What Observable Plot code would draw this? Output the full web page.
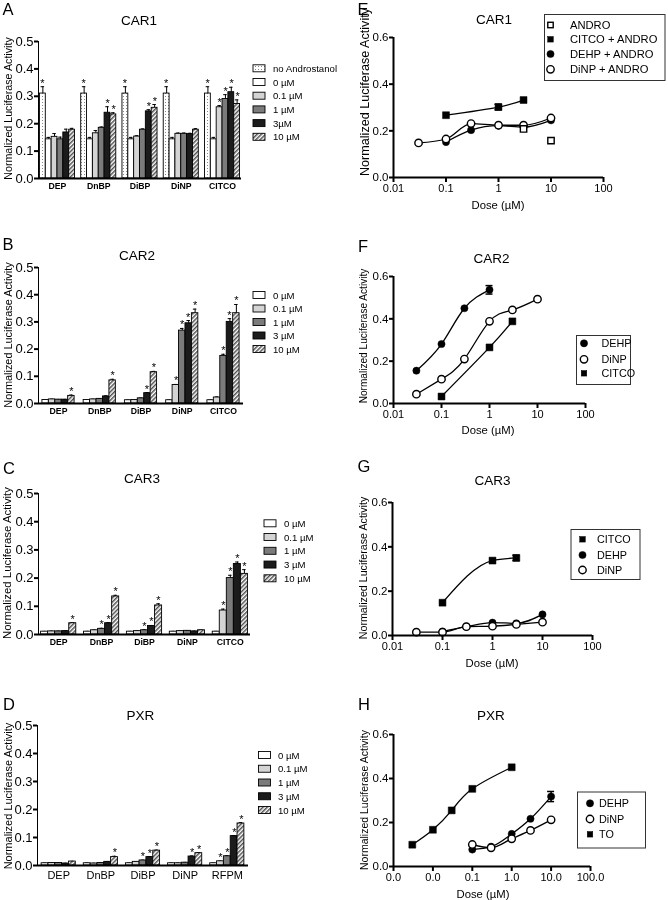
<!DOCTYPE html>
<html><head><meta charset="utf-8">
<script src="https://cdn.jsdelivr.net/npm/d3@7"></script>
<script src="https://cdn.jsdelivr.net/npm/@observablehq/plot@0.6"></script>
<style>
body{margin:0;background:#fff;}
#fig{position:relative;width:668px;height:900px;overflow:hidden;background:#fff;filter:grayscale(1);}
#fig g[aria-label^="x-axis"] line,#fig g[aria-label^="x-axis"] path,
#fig g[aria-label^="y-axis"] line,#fig g[aria-label^="y-axis"] path{stroke:#000;stroke-width:2px;}
#fig svg.boldx g[aria-label^="x-axis"] text{font-weight:bold;font-size:8.7px;}
#fig svg.regx g[aria-label^="x-axis"] text{font-size:11px;}
#fig svg.logp g[aria-label^="x-axis"] text{font-size:11px;}
</style></head><body>
<div id="fig"></div>
<script>
// ---------- DATA ----------
const groupsCAR = ["DEP","DnBP","DiBP","DiNP","CITCO"];
const groupsPXR = ["DEP","DnBP","DiBP","DiNP","RFPM"];
const seriesCAR1 = ["no Androstanol","0 \u00b5M","0.1 \u00b5M","1 \u00b5M","3\u00b5M","10 \u00b5M"];
const seriesDose = ["0 \u00b5M","0.1 \u00b5M","1 \u00b5M","3 \u00b5M","10 \u00b5M"];
const yTicksBar = [0,0.1,0.2,0.3,0.4,0.5];
const yTicksCurve = [0,0.2,0.4,0.6];
const xTicksCAR = [0.01,0.1,1,10,100];
const xTicksPXR = [0.001,0.01,0.1,1,10,100];

// rows = series, columns = groups
const car1Values = [
 [0.310,0.310,0.310,0.310,0.310],
 [0.143,0.143,0.143,0.143,0.143],
 [0.152,0.165,0.153,0.163,0.260],
 [0.143,0.185,0.178,0.163,0.290],
 [0.168,0.240,0.245,0.162,0.315],
 [0.178,0.234,0.258,0.178,0.272]];
const car1Errors = [
 [0.025,0.025,0.025,0.025,0.025],
 [0.007,0.007,0.007,0.007,0.007],
 [0.012,0.010,0.003,0.003,0.006],
 [0.008,0.003,0.003,0.003,0.016],
 [0.012,0.022,0.006,0.003,0.018],
 [0.005,0.006,0.012,0.004,0.015]];
const car1Stars = [[1,1,1,1,1],[0,0,0,0,0],[0,0,0,0,1],[0,0,0,0,1],[0,1,1,0,1],[0,1,1,0,1]];

const car2Values = [
 [0.013,0.013,0.012,0.012,0.012],
 [0.015,0.015,0.013,0.068,0.022],
 [0.014,0.017,0.019,0.268,0.175],
 [0.014,0.026,0.038,0.295,0.300],
 [0.028,0.085,0.115,0.332,0.332]];
const car2Errors = [
 [0.001,0.001,0.001,0.001,0.001],
 [0.001,0.001,0.001,0.002,0.002],
 [0.001,0.001,0.001,0.008,0.006],
 [0.001,0.002,0.002,0.010,0.012],
 [0.003,0.004,0.003,0.015,0.032]];
const car2Stars = [[0,0,0,0,0],[0,0,0,1,0],[0,0,0,1,1],[0,0,1,1,1],[1,1,1,1,1]];

const car3Values = [
 [0.010,0.010,0.010,0.010,0.010],
 [0.011,0.015,0.012,0.012,0.085],
 [0.011,0.020,0.015,0.013,0.200],
 [0.012,0.040,0.030,0.011,0.250],
 [0.040,0.135,0.103,0.015,0.215]];
const car3Errors = [
 [0.001,0.001,0.001,0.001,0.001],
 [0.001,0.001,0.001,0.001,0.005],
 [0.001,0.002,0.002,0.001,0.010],
 [0.001,0.002,0.002,0.001,0.007],
 [0.002,0.004,0.006,0.001,0.015]];
const car3Stars = [[0,0,0,0,0],[0,0,0,0,1],[0,1,1,0,1],[0,1,1,0,1],[1,1,1,0,1]];

const pxrValues = [
 [0.008,0.008,0.008,0.008,0.008],
 [0.009,0.007,0.013,0.008,0.015],
 [0.009,0.009,0.018,0.010,0.033],
 [0.007,0.013,0.030,0.032,0.105],
 [0.014,0.030,0.053,0.044,0.150]];
const pxrErrors = [
 [0.001,0.001,0.001,0.001,0.001],
 [0.001,0.001,0.001,0.001,0.001],
 [0.001,0.001,0.001,0.001,0.002],
 [0.001,0.001,0.002,0.002,0.002],
 [0.001,0.003,0.002,0.002,0.003]];
const pxrStars = [[0,0,0,0,0],[0,0,0,0,1],[0,0,1,0,1],[0,0,1,1,1],[0,1,1,1,1]];

// Dose-response (E-H)
const eAndroDose = [3,10],              eAndroAct = [0.208,0.158];
const eCitcoDose = [0.1,1,3],           eCitcoAct = [0.267,0.302,0.332], eCitcoErr = [0,0.012,0];
const eDehpDose = [0.1,0.3,1,3,10],     eDehpAct = [0.152,0.203,0.222,0.216,0.245];
const eDinpDose = [0.03,0.1,0.3,1,3,10],eDinpAct = [0.148,0.165,0.231,0.224,0.224,0.255];

const fDehpDose = [0.03,0.1,0.3,1],     fDehpAct = [0.155,0.281,0.450,0.537], fDehpErr = [0,0,0,0.02];
const fDinpDose = [0.03,0.1,0.3,1,3,10],fDinpAct = [0.044,0.115,0.210,0.388,0.442,0.493];
const fCitcoDose = [0.1,1,3],           fCitcoAct = [0.033,0.265,0.388];

const gCitcoDose = [0.1,1,3],           gCitcoAct = [0.148,0.338,0.350], gCitcoErr = [0,0,0.012];
const gDehpDose = [0.1,0.3,1,3,10],     gDehpAct = [0.018,0.040,0.058,0.055,0.095];
const gDinpDose = [0.03,0.1,0.3,1,3,10],gDinpAct = [0.015,0.015,0.040,0.042,0.050,0.060];

const hToDose = [0.003,0.01,0.03,0.1,1],hToAct = [0.099,0.167,0.255,0.353,0.451];
const hDehpDose = [0.1,0.3,1,3,10],     hDehpAct = [0.077,0.090,0.148,0.217,0.318], hDehpErr = [0,0,0,0,0.023];
const hDinpDose = [0.1,0.3,1,3,10],     hDinpAct = [0.100,0.085,0.126,0.164,0.212];

// ---------- STYLE ----------
const FONT = '"Liberation Sans", Arial, Helvetica, sans-serif';
const fillsCAR1 = ["url(#dots)","#ffffff","#d4d4d4","#7b7b7b","#1b1b1b","url(#hatch)"];
const fillsDose = ["#ffffff","#d4d4d4","#7b7b7b","#1b1b1b","url(#hatch)"];
const fig = document.getElementById("fig");

function place(node, left, top) {
  node.style.position = "absolute";
  node.style.left = left + "px";
  node.style.top = top + "px";
  fig.appendChild(node);
}

function barPanel(c) {
  const n = c.series.length;
  const inner = c.width - c.ml - c.mr;
  const step = inner / (c.groups.length - c.padI + 2 * c.padO);
  const bw = step * (1 - c.padI);
  const w = bw / n;
  const marks = [];
  c.series.forEach((s, si) => {
    const d = c.groups.map((g, gi) => ({group: g, value: c.values[si][gi],
      top: c.values[si][gi] + c.errors[si][gi], star: c.stars[si][gi]}));
    const off = (si - (n - 1) / 2) * w;
    const inset = (bw - w) / 2;
    const capInset = (bw - 3.5) / 2;
    marks.push(Plot.ruleX(d, {x: "group", y1: "value", y2: "top", dx: off, stroke: "#000", strokeWidth: 1}));
    marks.push(Plot.tickY(d, {x: "group", y: "top", insetLeft: capInset + off, insetRight: capInset - off, stroke: "#000", strokeWidth: 1}));
    marks.push(Plot.barY(d, {x: "group", y: "value", fill: c.fills[si], stroke: "#000", strokeWidth: 0.9,
      insetLeft: inset + off, insetRight: inset - off}));
    marks.push(Plot.text(d.filter(r => r.star), {x: "group", y: "top", text: () => "*", dx: Math.round(off), dy: 0,
      lineAnchor: "bottom", fontSize: 11, fill: "black"}));
  });
  marks.push(Plot.ruleY([0], {stroke: "#000", strokeWidth: 2}));
  const p = Plot.plot({
    width: c.width, height: c.height,
    marginLeft: c.ml, marginRight: c.mr, marginTop: c.mt, marginBottom: c.mb,
    style: {fontFamily: FONT, fontSize: "13px", background: "transparent", overflow: "visible", color: "#000"},
    x: {type: "band", domain: c.groups, paddingInner: c.padI, paddingOuter: c.padO, align: 0.5, round: false,
        label: null, tickSize: 0, tickPadding: c.xPad},
    y: {domain: [0, 0.5], ticks: yTicksBar, tickFormat: ".1f", label: null, tickSize: 4, tickPadding: 1, line: true},
    marks
  });
  p.classList.add(c.xClass);
  place(p, c.left, c.top);
}

const symbolStyles = {
  filledCircle: {symbol: "circle", r: 3.6, fill: "#000", stroke: "#000", strokeWidth: 0.5},
  openCircle:   {symbol: "circle", r: 3.7, fill: "#fff", stroke: "#000", strokeWidth: 1.4},
  filledSquare: {symbol: "square", r: 3.9, fill: "#000", stroke: "#000", strokeWidth: 0.5},
  openSquare:   {symbol: "square", r: 3.6, fill: "#fff", stroke: "#000", strokeWidth: 1.4}
};

function logPanel(c) {
  const marks = [];
  const sets = c.series.map(s => ({...s, d: s.x.map((x, i) => ({x, y: s.y[i], err: s.err ? s.err[i] : 0}))}));
  sets.forEach(s => { if (s.line) marks.push(Plot.line(s.d, {x: "x", y: "y", curve: s.curve || "natural", stroke: "#000", strokeWidth: 1.3})); });
  sets.forEach(s => {
    const e = s.d.filter(r => r.err > 0);
    if (!e.length) return;
    marks.push(Plot.ruleX(e, {x: "x", y1: r => r.y - r.err, y2: r => r.y + r.err, stroke: "#000", strokeWidth: 1.5}));
    marks.push(Plot.ruleY(e, {x1: "x", x2: "x", y: r => r.y + r.err, insetLeft: -3.5, insetRight: -3.5, stroke: "#000", strokeWidth: 1.5}));
    marks.push(Plot.ruleY(e, {x1: "x", x2: "x", y: r => r.y - r.err, insetLeft: -3.5, insetRight: -3.5, stroke: "#000", strokeWidth: 1.5}));
  });
  sets.forEach(s => marks.push(Plot.dot(s.d, {x: "x", y: "y", ...symbolStyles[s.sym]})));
  marks.push(Plot.ruleY([0], {stroke: "#000", strokeWidth: 2}));
  marks.push(Plot.ruleX([c.xDomain[0]], {stroke: "#000", strokeWidth: 2}));
  const p = Plot.plot({
    width: c.width, height: c.height,
    marginLeft: c.ml, marginRight: c.mr, marginTop: c.mt, marginBottom: c.mb,
    style: {fontFamily: FONT, fontSize: "11.5px", background: "transparent", overflow: "visible", color: "#000"},
    x: {type: "log", domain: c.xDomain, ticks: c.xTicks, tickFormat: c.xFormat, label: null, tickSize: 5, tickPadding: 2},
    y: {domain: [0, 0.6], ticks: yTicksCurve, tickFormat: ".1f", label: null, tickSize: 4, tickPadding: 1},
    marks
  });
  p.classList.add("logp");
  place(p, c.left, c.top);
}

// ---------- PANELS ----------
barPanel({left: 0, top: 30, width: 250, height: 170, ml: 38, mr: 9, mt: 11, mb: 22, padI: 0.15, padO: 0.035, xPad: 4.5,
  groups: groupsCAR, series: seriesCAR1, values: car1Values, errors: car1Errors, stars: car1Stars, fills: fillsCAR1, xClass: "boldx"});
barPanel({left: 0, top: 255, width: 250, height: 170, ml: 38, mr: 7, mt: 12, mb: 22, padI: 0.22, padO: 0.095, xPad: 4.5,
  groups: groupsCAR, series: seriesDose, values: car2Values, errors: car2Errors, stars: car2Stars, fills: fillsDose, xClass: "boldx"});
barPanel({left: 0, top: 480, width: 260, height: 175, ml: 38, mr: 10, mt: 13, mb: 21, padI: 0.18, padO: 0.06, xPad: 4.5,
  groups: groupsCAR, series: seriesDose, values: car3Values, errors: car3Errors, stars: car3Stars, fills: fillsDose, xClass: "boldx"});
barPanel({left: 0, top: 712, width: 260, height: 180, ml: 37, mr: 12, mt: 13, mb: 27, padI: 0.19, padO: 0.098, xPad: 6,
  groups: groupsPXR, series: seriesDose, values: pxrValues, errors: pxrErrors, stars: pxrStars, fills: fillsDose, xClass: "regx"});

const fmtCAR = d3.format("~g"), fmtPXR = d3.format(".1f");
logPanel({left: 340, top: 25, width: 270, height: 175, ml: 53, mr: 7, mt: 12, mb: 23,
  xDomain: [0.01, 100], xTicks: xTicksCAR, xFormat: fmtCAR, series: [
    {x: eCitcoDose, y: eCitcoAct, err: eCitcoErr, sym: "filledSquare", line: true},
    {x: eDehpDose, y: eDehpAct, sym: "filledCircle", line: true, curve: "monotone-x"},
    {x: eDinpDose, y: eDinpAct, sym: "openCircle", line: true, curve: "monotone-x"},
    {x: eAndroDose, y: eAndroAct, sym: "openSquare", line: false}]});
logPanel({left: 340, top: 265, width: 260, height: 160, ml: 53, mr: 15, mt: 11, mb: 22,
  xDomain: [0.01, 100], xTicks: xTicksCAR, xFormat: fmtCAR, series: [
    {x: fDehpDose, y: fDehpAct, err: fDehpErr, sym: "filledCircle", line: true},
    {x: fDinpDose, y: fDinpAct, sym: "openCircle", line: true},
    {x: fCitcoDose, y: fCitcoAct, sym: "filledSquare", line: true}]});
logPanel({left: 340, top: 490, width: 260, height: 165, ml: 52, mr: 8, mt: 12, mb: 20,
  xDomain: [0.01, 100], xTicks: xTicksCAR, xFormat: fmtCAR, series: [
    {x: gCitcoDose, y: gCitcoAct, err: gCitcoErr, sym: "filledSquare", line: true, curve: "monotone-x"},
    {x: gDehpDose, y: gDehpAct, sym: "filledCircle", line: true, curve: "monotone-x"},
    {x: gDinpDose, y: gDinpAct, sym: "openCircle", line: true, curve: "monotone-x"}]});
logPanel({left: 340, top: 722, width: 260, height: 165, ml: 53, mr: 10, mt: 12, mb: 21,
  xDomain: [0.001, 100], xTicks: xTicksPXR, xFormat: fmtPXR, series: [
    {x: hToDose, y: hToAct, sym: "filledSquare", line: true},
    {x: hDehpDose, y: hDehpAct, err: hDehpErr, sym: "filledCircle", line: true, curve: "monotone-x"},
    {x: hDinpDose, y: hDinpAct, sym: "openCircle", line: true, curve: "monotone-x"}]});

// ---------- OVERLAY: labels, titles, legends ----------
const ov = d3.select(fig).append("svg").attr("width", 668).attr("height", 900)
  .style("position", "absolute").style("left", "0px").style("top", "0px")
  .style("font-family", FONT).style("pointer-events", "none");
const defs = ov.append("defs");
const pd = defs.append("pattern").attr("id", "dots").attr("width", 3).attr("height", 3).attr("patternUnits", "userSpaceOnUse");
pd.append("rect").attr("width", 3).attr("height", 3).attr("fill", "#fff");
pd.append("rect").attr("width", 1).attr("height", 1).attr("fill", "#8a8a8a");
const ph = defs.append("pattern").attr("id", "hatch").attr("width", 3).attr("height", 3)
  .attr("patternUnits", "userSpaceOnUse").attr("patternTransform", "rotate(45)");
ph.append("rect").attr("width", 3).attr("height", 3).attr("fill", "#fff");
ph.append("rect").attr("width", 1.5).attr("height", 3).attr("fill", "#505050");

function txt(s, x, y, size, o = {}) {
  const t = ov.append("text").attr("x", x).attr("y", y).attr("font-size", size)
    .attr("text-anchor", o.anchor || "middle").attr("dominant-baseline", "central").attr("fill", "#000").text(s);
  if (o.rotate) t.attr("transform", `rotate(-90 ${x} ${y})`);
  if (o.weight) t.attr("font-weight", o.weight);
  return t;
}
const yLab = "Normalized Luciferase Activity";
const doseLab = "Dose (\u00b5M)";
// panel letters
[["A",8,8.5],["B",8,243.5],["C",9,467.5],["D",9,703.5],["E",363,8.5],["F",363,245.5],["G",364,465.5],["H",364,703.5]]
  .forEach(([l,x,y]) => txt(l, x, y, 16.5));
// titles
[["CAR1",139,20],["CAR2",137,255],["CAR3",142,478.5],["PXR",140.5,715],
 ["CAR1",494,19.5],["CAR2",491.5,258],["CAR3",492.5,480],["PXR",491,715]].forEach(([l,x,y]) => txt(l, x, y, 13.5));
// y labels
[[8,108.5,10.7],[8,335,10.9],[7,563,11.4],[8,796,11],[365,92,12.6],[363,336,10.1],[362.5,568,10.7],[364,800,10.5]]
  .forEach(([x,y,s]) => txt(yLab, x, y, s, {rotate: true}));
// dose labels
[[498,205],[488,430],[492,663],[483,894]].forEach(([x,y]) => txt(doseLab, x, y, 11.3));

// bar legends
function barLegend(series, fills, sx, tx, y0, dy) {
  series.forEach((s, i) => {
    const y = y0 + i * dy;
    ov.append("rect").attr("x", sx).attr("y", y - 3.5).attr("width", 12).attr("height", 7)
      .attr("fill", fills[i]).attr("stroke", "#000").attr("stroke-width", 0.9);
    txt(s, tx, y, 9.6, {anchor: "start"});
  });
}
barLegend(seriesCAR1, fillsCAR1, 253, 273, 68.3, 13.7);
barLegend(seriesDose, fillsDose, 253, 273, 295, 13.5);
barLegend(seriesDose, fillsDose, 264, 284, 523.3, 13.75);
barLegend(seriesDose, fillsDose, 258.5, 278, 755, 13.75);

// curve legends
function symbolAt(sym, x, y, scale) {
  const st = symbolStyles[sym];
  const r = st.r * scale;
  if (st.symbol === "circle") {
    ov.append("circle").attr("cx", x).attr("cy", y).attr("r", r).attr("fill", st.fill).attr("stroke", st.stroke).attr("stroke-width", st.strokeWidth);
  } else {
    const side = r * Math.sqrt(Math.PI);
    ov.append("rect").attr("x", x - side / 2).attr("y", y - side / 2).attr("width", side).attr("height", side)
      .attr("fill", st.fill).attr("stroke", st.stroke).attr("stroke-width", st.strokeWidth);
  }
}
function curveLegend(box, entries, sx, tx, fs) {
  ov.append("rect").attr("x", box[0]).attr("y", box[1]).attr("width", box[2]).attr("height", box[3])
    .attr("fill", "#fff").attr("stroke", "#333").attr("stroke-width", 1);
  entries.forEach(([label, sym, y, sc]) => { symbolAt(sym, sx, y, sc); txt(label, tx, y, fs, {anchor: "start"}); });
}
curveLegend([544.5, 14.5, 120.5, 66], [["ANDRO","openSquare",25,0.85],["CITCO + ANDRO","filledSquare",39.3,0.8],
  ["DEHP + ANDRO","filledCircle",54,1],["DiNP + ANDRO","openCircle",69.3,1]], 550.5, 570, 11.2);
curveLegend([576.5, 335.5, 54, 49], [["DEHP","filledCircle",343.3,1],["DiNP","openCircle",359.3,1],["CITCO","filledSquare",373.3,0.8]], 584, 601.5, 10.8);
curveLegend([571, 529.5, 69, 50], [["CITCO","filledSquare",539.3,0.8],["DEHP","filledCircle",555,1],["DiNP","openCircle",570,1]], 582.5, 597, 10.8);
curveLegend([577.5, 792, 68, 56], [["DEHP","filledCircle",803.3,1],["DiNP","openCircle",819,1],["TO","filledSquare",834.3,0.8]], 590, 599, 10.8);
</script>
</body></html>
